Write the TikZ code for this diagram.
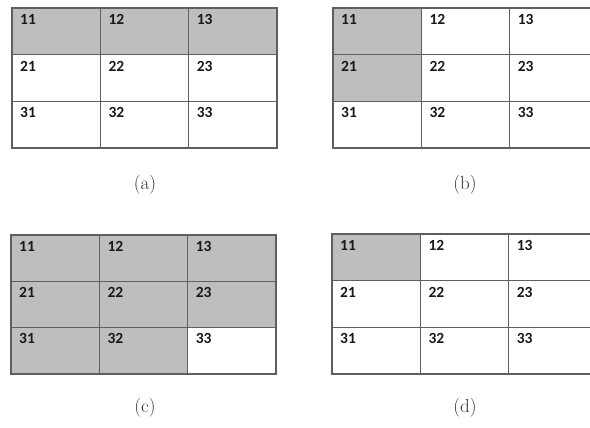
\documentclass[tikz,border=0pt]{standalone}
\usepackage{fontspec}
\newfontfamily\numfont{Carlito}
\usetikzlibrary{calc}
\definecolor{shade}{RGB}{190,190,190}
\definecolor{rule}{RGB}{95,95,95}
\tikzset{
  x=1pt, y=-1pt,
  cell/.style={draw=rule, line width=1.4pt, fill=white, minimum width=88.3pt, minimum height=46.5pt, inner sep=0pt, outer sep=0pt},
  num/.style={font=\numfont\bfseries\fontsize{15.5}{15.5}\selectfont, inner sep=0pt, anchor=north west, text=black!90},
  captext/.style={font=\fontsize{19}{19}\selectfont, inner sep=0pt, text=black!80},
  s a11/.style={fill=shade}, s a12/.style={fill=shade}, s a13/.style={fill=shade},
  s b11/.style={fill=shade}, s b21/.style={fill=shade},
  s c11/.style={fill=shade}, s c12/.style={fill=shade}, s c13/.style={fill=shade},
  s c21/.style={fill=shade}, s c22/.style={fill=shade}, s c23/.style={fill=shade},
  s c31/.style={fill=shade}, s c32/.style={fill=shade},
  s d11/.style={fill=shade},
}
\newcommand\mytable[5]{%
  \foreach \r in {1,2,3}{\foreach \c in {1,2,3}{
    \node[cell, s #1\r\c/.try, minimum height=#4] (#1\r\c) at ({#2+(\c-0.5)*88.3}, {#3+(\r-0.5)*#5}) {};
  }}
  \foreach \r in {1,2,3}{\foreach \c in {1,2,3}{
    \node[num] (#1t\r\c) at ($(#1\r\c.north west)+(8,6)$) {\r\c};
  }}
}
\begin{document}
\begin{tikzpicture}
\useasboundingbox (0,0) rectangle (590,428);
\clip (0,0) rectangle (590,428);
\mytable{a}{12}{8}{46.7pt}{46.7}
\mytable{b}{333}{8}{46.7pt}{46.7}
\mytable{c}{11}{235}{46.3pt}{46.3}
\mytable{d}{332}{234}{46.7pt}{46.7}
\node[captext] (capa) at (145,185) {(a)};
\node[captext] (capb) at (465,185) {(b)};
\node[captext] (capc) at (145,408) {(c)};
\node[captext] (capd) at (465,408) {(d)};
\end{tikzpicture}
\end{document}
